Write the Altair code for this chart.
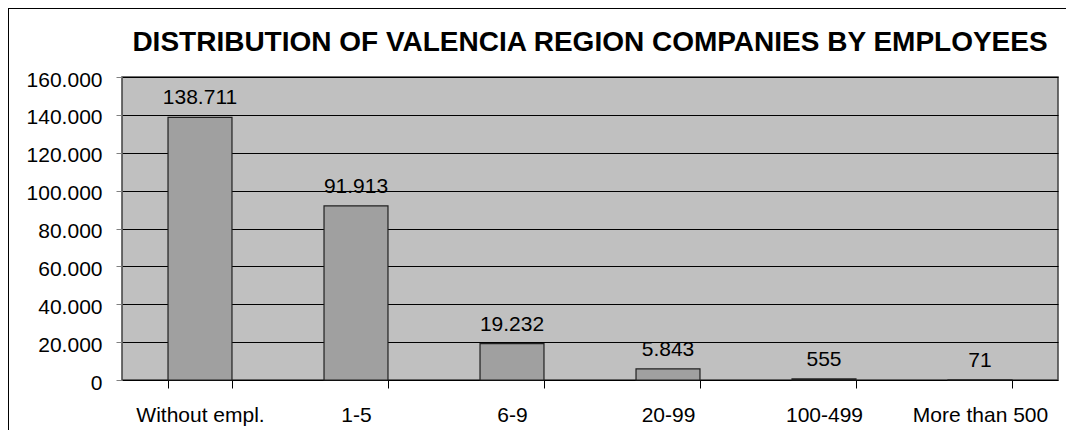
import altair as alt
import pandas as pd

categories = ["Without empl.", "1-5", "6-9", "20-99", "100-499", "More than 500"]
companies = [138711, 91913, 19232, 5843, 555, 71]
labels = ["138.711", "91.913", "19.232", "5.843", "555", "71"]

df = pd.DataFrame({"cat": categories, "n": companies, "lab": labels})

W, H = 936, 303
FONT = "Liberation Sans"

x = alt.X("cat:N", sort=categories, title=None,
          scale=alt.Scale(paddingInner=0.59, paddingOuter=0.295),
          axis=alt.Axis(labelAngle=0, labelFontSize=21, labelFont=FONT, labelColor="black",
                        tickBand="extent", tickSize=8, tickColor="black",
                        domain=False, labelPadding=16, grid=False))
y = alt.Y("n:Q", title=None,
          scale=alt.Scale(domain=[0, 160000], nice=False),
          axis=alt.Axis(tickCount=8,
                        labelExpr="replace(format(datum.value, ','), /,/g, '.')",
                        labelFontSize=21, labelFont=FONT, labelColor="black", labelOverlap=False,
                        tickSize=6, tickColor="#808080", labelPadding=14, labelOffset=3,
                        domain=False, grid=True, gridColor="black", gridOpacity=1, gridWidth=1))

frame = alt.Chart(df).mark_rule(stroke="black", strokeWidth=2, clip=False).encode(
    x=alt.value(-114), x2=alt.value(W + 300), y=alt.value(-69))
frame_left = alt.Chart(df).mark_rule(stroke="black", strokeWidth=2, clip=False).encode(
    x=alt.value(-114), y=alt.value(-69), y2=alt.value(H + 300))

bars = alt.Chart(df).mark_bar(color="#A0A0A0", stroke="#202020", strokeWidth=1.2).encode(x=x, y=y)

text = alt.Chart(df).mark_text(baseline="alphabetic", dy=-13, fontSize=21, font=FONT, color="black").encode(
    x=alt.X("cat:N", sort=categories), y="n:Q", text="lab:N")

chart = alt.layer(frame, frame_left, bars, text).properties(
    width=W, height=H,
    title=alt.TitleParams("DISTRIBUTION OF VALENCIA REGION COMPANIES BY EMPLOYEES",
                          fontSize=28, font=FONT, fontWeight="bold", color="black",
                          anchor="middle", offset=0, baseline="alphabetic", dy=72),
    autosize=alt.AutoSizeParams(type="none"),
    padding={"left": 114, "top": 69, "right": 8, "bottom": 50},
    background="white",
).configure_view(fill="#C0C0C0", stroke="#404040", strokeWidth=1.5)

chart.save("out.html", embed_options={"renderer": "svg", "actions": False})
